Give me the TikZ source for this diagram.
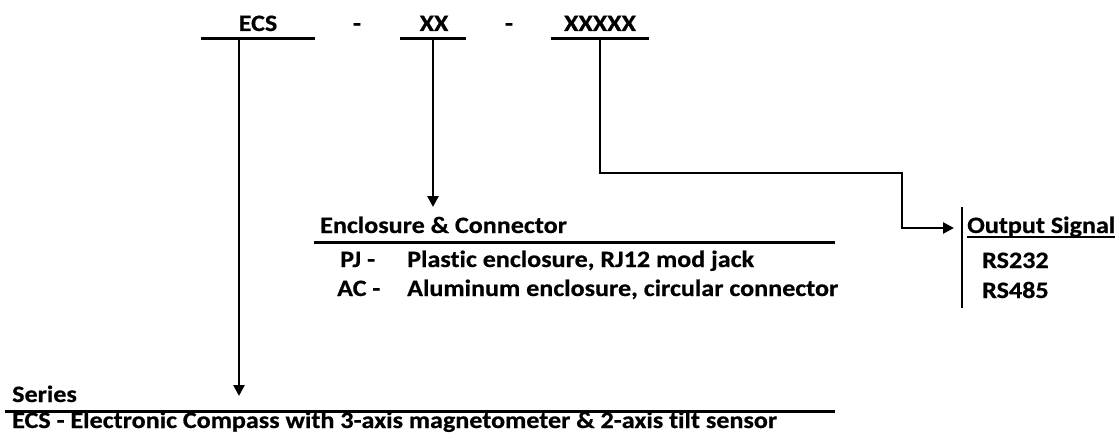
\documentclass[tikz,border=0pt]{standalone}
\usepackage{fontspec}
\newfontfamily\calib[FakeStretch=1.11, Ligatures=NoCommon, FakeBold=0.6]{Carlito}
\usetikzlibrary{arrows.meta}

\begin{document}
\begin{tikzpicture}[x=1pt, y=-1pt,
  every node/.style={font=\calib\bfseries\fontsize{23.5}{28}\selectfont, inner sep=0pt},
  rule/.style={line width=3pt},
  feed/.style={line width=2.6pt, -{Triangle[length=11pt,width=11pt]}}]
  \useasboundingbox (0,0) rectangle (1119,441);

  % Part number
  \node[anchor=base] (ecs) at (258,31) {ECS};
  \node[anchor=base] (dasha) at (357,31) {-};
  \node[anchor=base] (xx) at (434,31) {XX};
  \node[anchor=base] (dashb) at (509,31) {-};
  \node[anchor=base] (xxxxx) at (600,31) {XXXXX};

  % Underlines
  \draw[rule] (201,39) -- (315,39);
  \draw[rule] (400,39) -- (466,39);
  \draw[rule] (551,39) -- (649,39);

  % Feeds
  \coordinate (ecsfoot) at (239,39);
  \coordinate (xxfoot) at (433,39);
  \coordinate (xxxxxfoot) at (600,39);
  \coordinate (seriestip) at (239,396);
  \coordinate (enctip) at (433,207);
  \coordinate (outbend) at (902,173);
  \coordinate (outtip) at (954,228);
  \draw[feed] (ecsfoot) -- (seriestip);
  \draw[feed] (xxfoot) -- (enctip);
  \draw[feed] (xxxxxfoot) |- (outbend) |- (outtip);

  % Enclosure & Connector
  \node[anchor=base west] (enchead) at (320,233) {Enclosure \& Connector};
  \draw[rule] (314,242) -- (835,242);
  \node[anchor=base west] (pj) at (340,267) {PJ -};
  \node[anchor=base west] (pjtext) at (407,267) {Plastic enclosure, RJ12 mod jack};
  \node[anchor=base west] (ac) at (337,296) {AC -};
  \node[anchor=base west] (actext) at (407,296) {Aluminum enclosure, circular connector};

  % Output Signal
  \draw[line width=2.6pt] (962,207) -- (962,308);
  \node[anchor=base west] (outhead) at (967,233) {Output Signal};
  \draw[line width=1.8pt] ([yshift=-4pt]outhead.base west) -- ([yshift=-4pt]outhead.base east);
  \node[anchor=base west] (rs232) at (982,268) {RS232};
  \node[anchor=base west] (rs485) at (982,298) {RS485};

  % Series
  \node[anchor=base west] (serieshead) at (12,402) {Series};
  \draw[rule] (5,411) -- (835,411);
  \node[anchor=base west] (seriestext) at (12,428) {ECS - Electronic Compass with 3-axis magnetometer \& 2-axis tilt sensor};
\end{tikzpicture}
\end{document}
